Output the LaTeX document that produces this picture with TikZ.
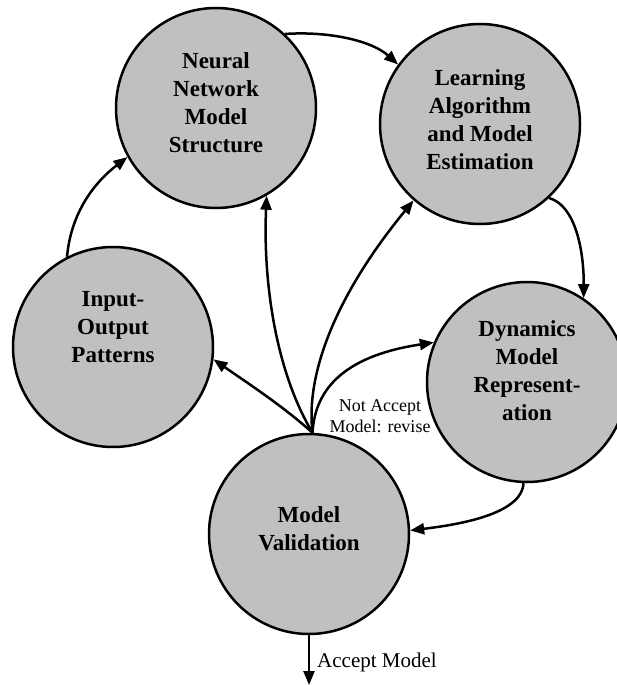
\documentclass[tikz,border=0pt]{standalone}
\usepackage{fontspec}
\setmainfont{Liberation Serif}
\usetikzlibrary{arrows.meta}
\definecolor{silverfill}{RGB}{192,192,192}
\begin{document}
\begin{tikzpicture}[x=1pt,y=-1pt,
  stage/.style={circle, draw, line width=2.5pt, fill=silverfill, minimum size=200pt, inner sep=0pt},
  stagetext/.style={anchor=north, inner sep=0pt, align=center, font=\fontsize{23}{28}\selectfont\bfseries},
  flow/.style={line width=2.5pt, -{Triangle[length=14pt,width=11pt]}},
  note/.style={inner sep=0pt, align=center, font=\fontsize{18}{21}\selectfont}]
\useasboundingbox (0,0) rectangle (616,685);

% stages
\node[stage] (nn) at (216,108) {};
\node[stage] (la) at (480,124) {};
\node[stage] (io) at (113,347) {};
\node[stage] (dm) at (527,382) {};
\node[stage] (mv) at (309,534) {};

\node[stagetext] (nnt) at (216,52) {Neural\\Network\\Model\\Structure};
\node[stagetext] (lat) at (480,69) {Learning\\Algorithm\\and Model\\Estimation};
\node[stagetext] (iot) at (113,291) {Input-\\Output\\Patterns};
\node[stagetext] (dmt) at (527,320) {Dynamics\\Model\\Represent-\\ation};
\node[stagetext] (mvt) at (309,506) {Model\\Validation};

% cycle connectors
\draw[flow] (io.117) .. controls (71,212) and (95,182) .. (nn.209);
\draw[flow] (nn.47) .. controls (330,31) and (372,41) .. (la.144);
\draw[flow] (la.-47) .. controls (575,205) and (584,250) .. (dm.56);
\draw[flow] (dm.-92) .. controls (522,515) and (455,525) .. (mv.2);

% revise fan
\coordinate (fan) at (mv.88);
\draw[flow] (fan) .. controls (283,406) and (246,382) .. (io.-7);
\draw[flow] (fan) .. controls (275,370) and (263,280) .. (nn.-60);
\draw[flow] (fan) .. controls (305,370) and (340,290) .. (la.229);
\draw[flow] (fan) .. controls (315,385) and (350,355) .. (dm.157);

\node[note] (revise) at (380,416) {Not Accept\\Model: revise};

% accept
\coordinate (out) at (309,685);
\draw[flow] (mv.south) -- (out);
\node[note, anchor=west, font=\fontsize{21}{24}\selectfont] (accept) at (317,662) {Accept Model};
\end{tikzpicture}
\end{document}
